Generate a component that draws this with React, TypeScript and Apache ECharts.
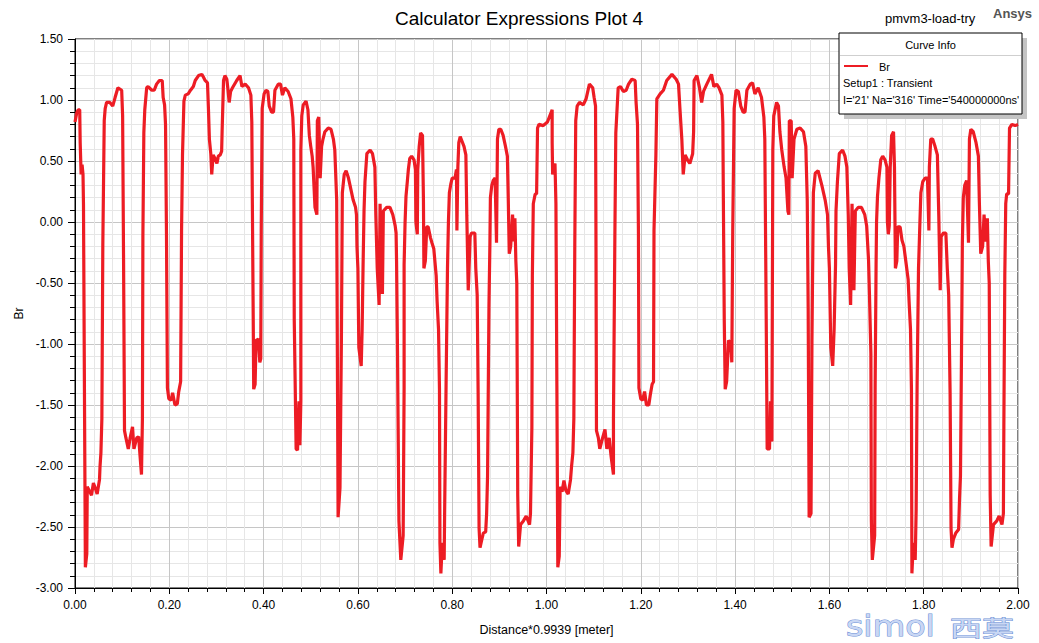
import React, { useEffect, useRef } from "react";
import * as echarts from "echarts";

const TITLE = "Calculator Expressions Plot 4";
const PROJECT = "pmvm3-load-try";
const BRAND = "Ansys";
const X_NAME = "Distance*0.9939 [meter]";
const Y_NAME = "Br";
const LEGEND_HEADER = "Curve Info";
const LEGEND_LINES = ["Br", "Setup1 : Transient", "I='21' Na='316' Time='540000000ns'"];

// [distance, Br]
const seg1: [number, number][] = [
  [0.000,0.82],[0.004,0.90],[0.007,0.92],[0.010,0.92],[0.011,0.65],[0.013,0.39],[0.015,0.47],[0.017,0.39],[0.018,0.14],[0.020,-1.36],
  [0.022,-2.83],[0.025,-2.72],[0.026,-2.17],[0.030,-2.20],[0.035,-2.24],[0.039,-2.14],[0.043,-2.18],[0.047,-2.23],[0.052,-2.11],[0.053,-2.01],
  [0.055,-1.89],[0.057,-1.61],[0.059,-0.19],[0.062,0.83],[0.064,0.93],[0.067,0.98],[0.074,0.98],[0.080,0.95],[0.085,1.02],[0.091,1.10],
  [0.095,1.09],[0.099,1.08],[0.101,0.87],[0.103,-0.31],[0.105,-1.71],[0.108,-1.77],[0.113,-1.86],[0.117,-1.77],[0.122,-1.68],[0.125,-1.86],
  [0.131,-1.77],[0.135,-1.76],[0.138,-1.92],[0.141,-2.07],[0.143,-1.61],[0.144,-0.12],[0.146,0.73],[0.148,0.92],[0.152,1.10],[0.155,1.11],
  [0.163,1.08],[0.168,1.08],[0.173,1.13],[0.179,1.16],[0.185,1.16],[0.187,1.02],[0.190,0.96],[0.192,0.80],[0.194,-0.09],[0.196,-1.36],
  [0.199,-1.45],[0.204,-1.46],[0.207,-1.40],[0.212,-1.50],[0.217,-1.49],[0.220,-1.39],[0.224,-1.31],[0.226,-0.07],[0.228,0.55],[0.231,0.99],
  [0.234,1.04],[0.240,1.05],[0.245,1.08],[0.251,1.11],[0.255,1.16],[0.262,1.20],[0.269,1.21],[0.272,1.19],[0.276,1.16],[0.281,1.14],
  [0.283,0.93],[0.285,0.68],[0.288,0.56],[0.290,0.39],[0.293,0.55],[0.297,0.52],[0.301,0.48],[0.304,0.54],[0.308,0.55],[0.311,0.58],
  [0.312,0.74],[0.315,1.16],[0.318,1.20],[0.322,1.17],[0.324,1.10],[0.327,0.98],[0.330,1.07]
];
const seg2: [number, number][] = [
  [0.334,1.10],[0.343,1.16],[0.350,1.20],[0.354,1.11],[0.361,1.13],[0.368,1.10],[0.373,1.04],[0.375,0.82],[0.376,0.24],[0.378,-0.80],
  [0.379,-1.37],[0.382,-1.33],[0.384,-0.97],[0.389,-0.96],[0.392,-1.15],[0.394,-1.12],[0.395,-0.07],[0.397,0.93],[0.401,1.05],[0.405,1.08],
  [0.409,1.07],[0.412,0.95],[0.417,0.90],[0.421,0.90],[0.424,1.08],[0.431,1.13],[0.436,1.13],[0.440,1.04],[0.445,1.10],[0.452,1.07],
  [0.458,1.01],[0.462,0.86],[0.464,0.68],[0.465,-0.80],[0.469,-1.86],[0.472,-1.87],[0.475,-1.47],[0.477,-1.83],[0.479,-1.47],[0.479,0.59],
  [0.481,0.87],[0.484,0.96],[0.490,0.99],[0.494,0.92],[0.497,0.71],[0.500,0.62],[0.503,0.54],[0.505,0.45],[0.509,0.12],[0.513,0.06],
  [0.514,0.83],[0.517,0.86],[0.520,0.36],[0.523,0.62],[0.526,0.68],[0.530,0.74],[0.537,0.77],[0.543,0.76],[0.548,0.68],[0.551,0.59],
  [0.555,0.18],[0.556,-0.71],[0.558,-2.42],[0.562,-2.18],[0.565,-0.97],[0.567,0.24],[0.571,0.39],[0.575,0.42],[0.580,0.36],[0.585,0.27],
  [0.590,0.18],[0.595,0.12],[0.597,0.06],[0.598,-0.20],[0.600,-0.38],[0.602,-1.03],[0.607,-1.18],[0.609,-0.88],[0.611,-0.35],[0.613,0.09],
  [0.615,0.33],[0.619,0.56],[0.626,0.59],[0.631,0.56],[0.636,0.45],[0.638,0.06],[0.641,-0.38],[0.645,-0.68],[0.647,0.15],[0.652,-0.59],
  [0.654,0.09],[0.661,0.12],[0.668,0.12],[0.674,0.06],[0.679,-0.03],[0.681,-0.09],[0.682,-0.32],[0.684,-1.06],[0.687,-2.45]
];
const seg3: [number, number][] = [
  [0.691,-2.77],[0.696,-2.57],[0.698,-1.36],[0.698,-0.35],[0.700,-0.01],[0.702,0.21],[0.705,0.34],[0.707,0.43],[0.710,0.52],[0.714,0.54],
  [0.719,0.51],[0.722,0.43],[0.723,0.00],[0.726,-0.10],[0.727,0.43],[0.730,0.62],[0.733,0.73],[0.737,0.71],[0.739,0.18],[0.740,-0.38],
  [0.743,-0.32],[0.746,-0.04],[0.749,-0.04],[0.754,-0.13],[0.757,-0.17],[0.761,-0.22],[0.766,-0.44],[0.768,-0.65],[0.771,-0.88],[0.773,-1.37],
  [0.774,-2.63],[0.776,-2.88],[0.779,-2.63],[0.783,-2.77],[0.784,-2.36],[0.787,-1.34],[0.790,-0.38],[0.792,0.00],[0.794,0.24],[0.797,0.31],
  [0.800,0.36],[0.806,0.36],[0.809,0.43],[0.810,-0.07],[0.812,0.45],[0.814,0.65],[0.817,0.70],[0.820,0.67],[0.825,0.62],[0.829,0.55],
  [0.831,0.05],[0.834,-0.56],[0.835,-0.47],[0.838,-0.12],[0.841,-0.09],[0.848,-0.09],[0.850,-0.38],[0.853,-0.60],[0.855,-1.40],[0.857,-2.51],
  [0.859,-2.67],[0.863,-2.60],[0.866,-2.55],[0.871,-2.54],[0.873,-2.39],[0.875,-2.08],[0.878,-0.68],[0.880,-0.17],[0.881,0.20],[0.884,0.30],
  [0.887,0.34],[0.891,0.36],[0.894,-0.17],[0.896,0.68],[0.899,0.76],[0.903,0.76],[0.908,0.71],[0.913,0.62],[0.917,0.54],[0.919,0.17],
  [0.921,-0.26],[0.924,-0.20],[0.928,0.06],[0.931,-0.16],[0.933,0.03],[0.935,-0.32],[0.937,-0.50],[0.939,-2.24],[0.941,-2.66],[0.945,-2.48],
  [0.951,-2.45],[0.957,-2.41],[0.964,-2.48],[0.966,-2.39],[0.969,-1.68],[0.970,-0.44],[0.972,0.15],[0.976,0.23],[0.979,0.23],[0.981,0.77],
  [0.984,0.80],[0.993,0.79],[1.002,0.82],[1.006,0.86],[1.012,0.92],[1.012,0.65],[1.013,0.39],[1.018,0.48],[1.020,0.15],[1.022,-1.34],
  [1.024,-2.83]
];
const seg4: [number, number][] = [
  [1.027,-2.74],[1.029,-2.17],[1.033,-2.21],[1.037,-2.12],[1.041,-2.20],[1.046,-2.23],[1.051,-2.11],[1.053,-2.01],[1.056,-1.89],[1.058,-1.61],
  [1.060,-0.19],[1.062,0.83],[1.065,0.95],[1.070,0.98],[1.078,0.96],[1.084,1.01],[1.091,1.13],[1.098,1.10],[1.101,1.02],[1.104,0.95],
  [1.105,-0.23],[1.106,-1.71],[1.110,-1.77],[1.113,-1.86],[1.119,-1.77],[1.124,-1.70],[1.128,-1.86],[1.133,-1.77],[1.137,-1.92],[1.142,-2.07],
  [1.142,-1.61],[1.145,-0.12],[1.147,0.73],[1.152,1.10],[1.157,1.11],[1.163,1.07],[1.169,1.08],[1.174,1.13],[1.181,1.17],[1.188,1.16],
  [1.190,0.98],[1.193,0.80],[1.195,-0.09],[1.196,-1.36],[1.200,-1.45],[1.204,-1.46],[1.208,-1.39],[1.212,-1.50],[1.217,-1.50],[1.220,-1.42],
  [1.224,-1.33],[1.227,-1.31],[1.228,-0.07],[1.232,0.55],[1.234,1.01],[1.241,1.05],[1.248,1.08],[1.255,1.16],[1.266,1.21],[1.275,1.17],
  [1.280,1.13],[1.283,0.93],[1.287,0.68],[1.290,0.39],[1.294,0.55],[1.299,0.51],[1.304,0.48],[1.310,0.56],[1.312,0.74],[1.313,1.16],
  [1.319,1.20],[1.324,1.11],[1.329,0.98],[1.333,1.07],[1.340,1.13],[1.350,1.21],[1.355,1.11],[1.361,1.13],[1.366,1.10]
];
const seg5: [number, number][] = [
  [1.372,1.04],[1.374,0.82],[1.375,0.24],[1.377,-0.80],[1.379,-1.37],[1.382,-1.31],[1.386,-0.97],[1.391,-1.00],[1.393,-1.15],[1.395,-0.07],
  [1.398,0.93],[1.402,1.08],[1.407,1.07],[1.412,0.95],[1.417,0.90],[1.421,0.90],[1.425,1.08],[1.432,1.13],[1.437,1.14],[1.442,1.05],
  [1.449,1.10],[1.456,1.02],[1.461,0.86],[1.463,0.68],[1.466,-0.80],[1.468,-1.86],[1.473,-1.86],[1.475,-1.47],[1.478,-1.80],[1.480,0.59],
  [1.482,0.87],[1.488,0.98],[1.492,0.95],[1.495,0.74],[1.499,0.59],[1.504,0.45],[1.508,0.36],[1.512,0.09],[1.514,0.06],[1.515,0.83],
  [1.519,0.83],[1.521,0.36],[1.525,0.68],[1.531,0.76],[1.538,0.77],[1.545,0.74],[1.550,0.62],[1.553,0.18],[1.555,-0.71],[1.557,-2.42],
  [1.561,-2.39],[1.563,-0.97],[1.566,0.24],[1.570,0.40],[1.576,0.42],[1.584,0.30],[1.591,0.18],[1.596,0.06],[1.598,-0.20],[1.600,-0.38],
  [1.603,-1.03],[1.607,-1.18],[1.610,-0.88],[1.613,-0.35],[1.614,0.09],[1.617,0.33],[1.621,0.56],[1.628,0.59],[1.633,0.54],[1.637,0.45],
  [1.640,0.06],[1.642,-0.38],[1.645,-0.68],[1.648,0.15],[1.652,-0.56],[1.655,0.09],[1.661,0.12],[1.668,0.12],[1.675,0.06],[1.679,-0.03],
  [1.683,-0.31],[1.685,-0.60],[1.688,-1.08],[1.689,-2.45],[1.691,-2.77],[1.696,-2.57],[1.697,-1.36],[1.699,-0.35],[1.700,0.00],[1.702,0.21]
];
const seg6: [number, number][] = [
  [1.705,0.36],[1.709,0.51],[1.713,0.54],[1.718,0.51],[1.722,0.45],[1.723,0.00],[1.725,-0.10],[1.727,-0.03],[1.729,0.45],[1.732,0.71],
  [1.736,0.74],[1.738,0.45],[1.740,-0.38],[1.743,-0.32],[1.745,-0.04],[1.750,-0.04],[1.754,-0.15],[1.758,-0.20],[1.762,-0.32],[1.767,-0.47],
  [1.769,-0.65],[1.772,-0.88],[1.774,-1.37],[1.775,-2.88],[1.778,-2.63],[1.782,-2.77],[1.784,-2.36],[1.786,-1.34],[1.789,-0.38],[1.792,0.00],
  [1.794,0.24],[1.798,0.33],[1.803,0.36],[1.808,0.36],[1.811,-0.07],[1.812,0.45],[1.815,0.68],[1.819,0.68],[1.824,0.62],[1.829,0.55],
  [1.832,0.05],[1.835,-0.56],[1.837,-0.12],[1.842,-0.09],[1.847,-0.09],[1.850,-0.38],[1.853,-0.60],[1.856,-1.40],[1.858,-2.51],[1.860,-2.67],
  [1.863,-2.60],[1.868,-2.55],[1.874,-2.52],[1.876,-2.27],[1.878,-2.08],[1.881,-0.68],[1.882,-0.17],[1.884,0.20],[1.887,0.30],[1.891,0.34],
  [1.895,-0.17],[1.897,0.68],[1.900,0.76],[1.905,0.74],[1.911,0.65],[1.916,0.54],[1.918,0.17],[1.921,-0.26],[1.925,-0.20],[1.928,0.06],
  [1.932,-0.16],[1.935,0.03],[1.937,-0.32],[1.939,-0.50],[1.941,-2.24],[1.943,-2.66],[1.948,-2.48],[1.955,-2.45],[1.960,-2.41],[1.966,-2.48],
  [1.969,-2.39],[1.970,-1.68],[1.972,-0.44],[1.974,0.15],[1.976,0.23],[1.980,0.23],[1.982,0.77],[1.987,0.80],[1.994,0.79],[2.000,0.80]
];

const X_MIN = 0, X_MAX = 2, X_STEP = 0.2;
const Y_MIN = -3, Y_MAX = 1.5, Y_STEP = 0.5;

const RED = "#ed1c24";
const FONT = "Liberation Sans, Arial, sans-serif";

export default function App() {
  const ref = useRef<HTMLDivElement>(null);
  useEffect(() => {
    if (!ref.current) return;
    const chart = echarts.init(ref.current, undefined, { renderer: "svg" });
    const data = [...seg1, ...seg2, ...seg3, ...seg4, ...seg5, ...seg6];
    const lx = 839, ly = 33, lw = 183, lh = 81;
    const txt = (x: number, y: number, text: string, size: number, align: string, extra: any = {}) => ({
      type: "text", x, y, z: 102,
      style: { text, fill: "#000", fontSize: size, fontFamily: FONT, align, verticalAlign: "middle", textAlign: align, textVerticalAlign: "middle", ...extra },
    });
    chart.setOption({
      animation: false,
      backgroundColor: "#ffffff",
      grid: { left: 75, right: 21, top: 39, bottom: 55, show: true, borderColor: "#000", borderWidth: 1, backgroundColor: "transparent" },
      xAxis: {
        type: "value", min: X_MIN, max: X_MAX, interval: X_STEP,
        name: X_NAME, nameLocation: "middle", nameGap: 35,
        nameTextStyle: { color: "#000", fontSize: 12.5, fontFamily: FONT },
        axisLine: { show: true, onZero: false, lineStyle: { color: "#000", width: 1 } },
        axisTick: { show: true, length: 6, lineStyle: { color: "#000" } },
        minorTick: { show: true, splitNumber: 5, length: 4, lineStyle: { color: "#000" } },
        axisLabel: { color: "#000", fontSize: 12, fontFamily: FONT, margin: 11, formatter: (v: number) => v.toFixed(2) },
        splitLine: { show: true, lineStyle: { color: "#c6c6c6", width: 1 } },
        minorSplitLine: { show: true, lineStyle: { color: "#e6e6e6", width: 1 } },
      },
      yAxis: {
        type: "value", min: Y_MIN, max: Y_MAX, interval: Y_STEP,
        name: Y_NAME, nameLocation: "middle", nameGap: 47,
        nameTextStyle: { color: "#000", fontSize: 12, fontFamily: FONT },
        axisLine: { show: true, onZero: false, lineStyle: { color: "#000", width: 1 } },
        axisTick: { show: true, length: 7, lineStyle: { color: "#000" } },
        minorTick: { show: true, splitNumber: 5, length: 5, lineStyle: { color: "#000" } },
        axisLabel: { color: "#000", fontSize: 12, fontFamily: FONT, margin: 12, formatter: (v: number) => v.toFixed(2) },
        splitLine: { show: true, lineStyle: { color: "#c6c6c6", width: 1 } },
        minorSplitLine: { show: true, lineStyle: { color: "#e6e6e6", width: 1 } },
      },
      series: [{
        type: "line", name: "Br", data, showSymbol: false, symbol: "none",
        lineStyle: { color: RED, width: 3.2 }, itemStyle: { color: RED }, z: 5,
      }],
      graphic: [
        txt(519, 18, TITLE, 19, "center"),
        txt(885, 18, PROJECT, 13, "left"),
        txt(993, 13, BRAND, 13, "left", { fill: "#555", fontWeight: "bold" }),
        { type: "rect", z: 100, shape: { x: lx + 5, y: ly + 5, width: lw, height: lh }, style: { fill: "#c4c4c4" } },
        { type: "rect", z: 101, shape: { x: lx, y: ly, width: lw, height: lh }, style: { fill: "#fff", stroke: "#000", lineWidth: 1 } },
        { type: "line", z: 102, shape: { x1: lx + 1, y1: ly + 22.5, x2: lx + lw - 1, y2: ly + 22.5 }, style: { stroke: "#cfcfcf", lineWidth: 1 } },
        txt(lx + lw / 2, ly + 12, LEGEND_HEADER, 11, "center"),
        { type: "line", z: 102, shape: { x1: lx + 5, y1: ly + 33, x2: lx + 29, y2: ly + 33 }, style: { stroke: RED, lineWidth: 2 } },
        txt(lx + 40, ly + 34, LEGEND_LINES[0], 11, "left"),
        txt(lx + 4, ly + 50, LEGEND_LINES[1], 11, "left"),
        txt(lx + 4, ly + 67, LEGEND_LINES[2], 11, "left"),
        { type: "text", z: 100, x: 846, y: 626, scaleX: 1.15, scaleY: 1, style: { text: "simol", fill: "#c9d7f4", stroke: "#6f92d6", lineWidth: 1, fontSize: 29, fontFamily: "DejaVu Sans, sans-serif", align: "left", verticalAlign: "middle", textAlign: "left", textVerticalAlign: "middle" } },
        { type: "text", z: 100, x: 950, y: 626, scaleX: 1.45, scaleY: 1, style: { text: "西莫", fill: "#c9d7f4", stroke: "#6f92d6", lineWidth: 1, fontSize: 22, fontFamily: "Noto Sans CJK SC, sans-serif", align: "left", verticalAlign: "middle", textAlign: "left", textVerticalAlign: "middle" } },
      ],
    });
    return () => chart.dispose();
  }, []);
  return <div ref={ref} style={{ position: "absolute", left: 0, top: 0, width: 1039, height: 643, background: "#fff" }} />;
}
